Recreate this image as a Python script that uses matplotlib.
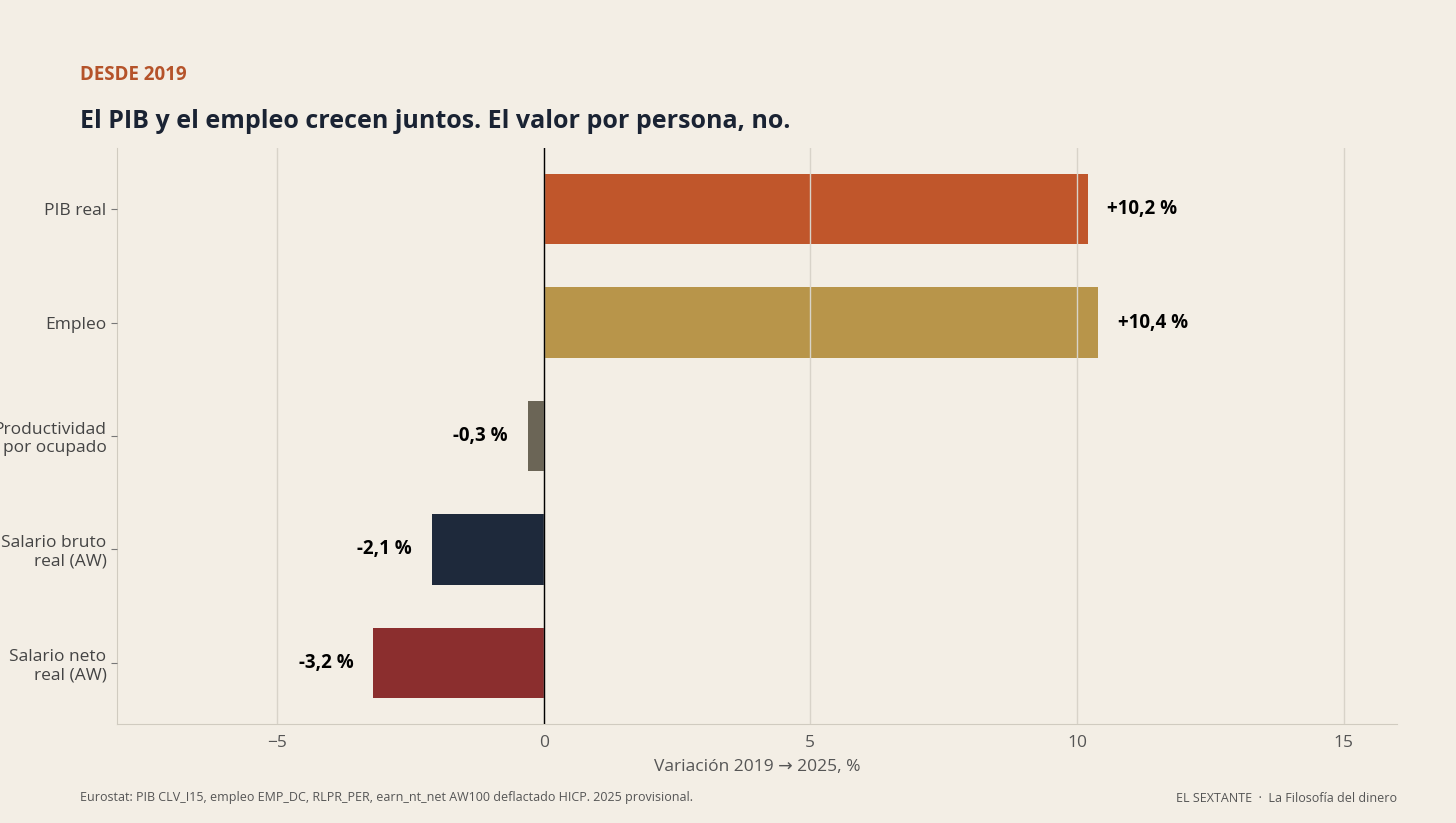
import matplotlib
matplotlib.use("Agg")
import matplotlib.pyplot as plt

categories = ["PIB real", "Empleo", "Productividad\npor ocupado", "Salario bruto\nreal (AW)", "Salario neto\nreal (AW)"]
values = [10.2, 10.4, -0.3, -2.1, -3.2]
labels = ["+10,2 %", "+10,4 %", "-0,3 %", "-2,1 %", "-3,2 %"]
colors = ["#C0562B", "#B8954A", "#6B6556", "#1E293B", "#8B2E2E"]
xticks = [-5, 0, 5, 10, 15]

plt.rcParams['font.family'] = ['Open Sans', 'DejaVu Sans']
bg = "#F3EEE5"
fig = plt.figure(figsize=(14.56, 8.23), dpi=100, facecolor=bg)
ax = fig.add_axes([117/1456, 1-724/823, (1397-117)/1456, (724-148)/823], facecolor=bg)

y = list(range(len(categories)))
ax.barh(y, values, height=0.62, color=colors, zorder=1)
ax.set_ylim(len(categories)-0.46, -0.54)
ax.set_xlim(-8, 16)
ax.set_yticks(y)
ax.set_yticklabels(categories, fontsize=12.5, color="#444444")
ax.set_xticks(xticks)
ax.set_xticklabels(["\u22125", "0", "5", "10", "15"], fontsize=12.5, color="#555555")
ax.grid(axis='x', color="#D8D3C9", linewidth=1, zorder=2)
ax.set_axisbelow(False)
ax.axvline(0, color="black", linewidth=1, zorder=3)
for s in ["top", "right"]:
    ax.spines[s].set_visible(False)
for s in ["left", "bottom"]:
    ax.spines[s].set_color("#D0CBC0")
ax.tick_params(axis='x', length=0, pad=8)
ax.tick_params(axis='y', color="#777777", length=4)
for yi, v, l in zip(y, values, labels):
    off = 0.37 if v >= 0 else -0.37
    ax.text(v + off, yi, l, ha='left' if v >= 0 else 'right', va='center',
            fontsize=13.5, fontweight='bold', color="black")
ax.set_xlabel("Variación 2019 → 2025, %", fontsize=12.5, color="#555555", labelpad=6)

fig.text(80/1456, 1-75/823, "DESDE 2019", fontsize=13.5, fontweight='bold', color="#B5532A", va='center')
fig.text(80/1456, 1-122/823, "El PIB y el empleo crecen juntos. El valor por persona, no.",
         fontsize=18, fontweight='bold', color="#1A2333", va='center')
fig.text(80/1456, 1-798/823, "Eurostat: PIB CLV_I15, empleo EMP_DC, RLPR_PER, earn_nt_net AW100 deflactado HICP. 2025 provisional.",
         fontsize=9, color="#555555", va='center')
fig.text(1397/1456, 1-798/823, "EL SEXTANTE  ·  La Filosofía del dinero",
         fontsize=9, color="#555555", va='center', ha='right')
fig.savefig("out.png", dpi=100, facecolor=bg)
